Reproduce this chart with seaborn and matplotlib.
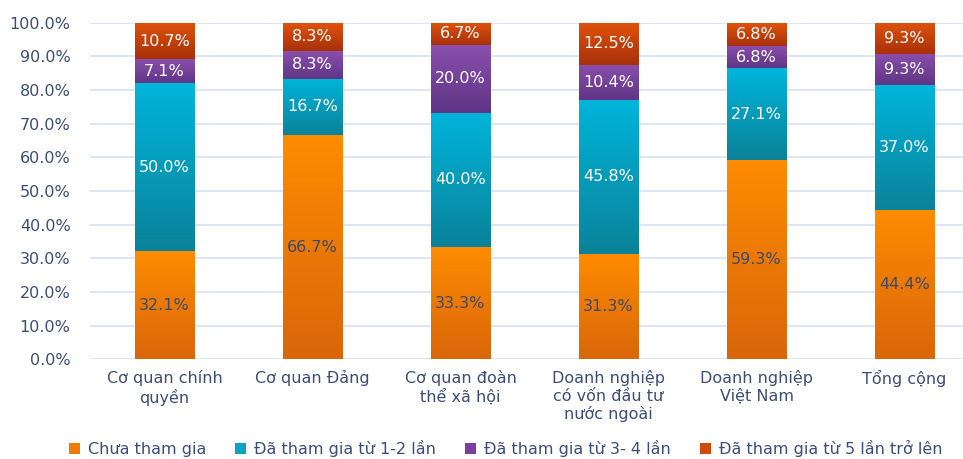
import numpy as np
import pandas as pd
import matplotlib
matplotlib.use("Agg")
import matplotlib.pyplot as plt
import seaborn as sns
from matplotlib.patches import Patch
from matplotlib.colors import LinearSegmentedColormap

categories = ["Cơ quan chính\nquyền", "Cơ quan Đảng", "Cơ quan đoàn\nthể xã hội",
              "Doanh nghiệp\ncó vốn đầu tư\nnước ngoài", "Doanh nghiệp\nViệt Nam", "Tổng cộng"]
series_names = ["Chưa tham gia", "Đã tham gia từ 1-2 lần",
                "Đã tham gia từ 3- 4 lần", "Đã tham gia từ 5 lần trở lên"]
chua = [32.1, 66.7, 33.3, 31.3, 59.3, 44.4]
lan_1_2 = [50.0, 16.7, 40.0, 45.8, 27.1, 37.0]
lan_3_4 = [7.1, 8.3, 20.0, 10.4, 6.8, 9.3]
lan_5 = [10.7, 8.3, 6.7, 12.5, 6.8, 9.3]
yticks = [0, 10, 20, 30, 40, 50, 60, 70, 80, 90, 100]

# (top colour, bottom colour) for each series gradient
grads = [("#ff8c00", "#d9660a"), ("#00b5db", "#0b8299"),
         ("#8a4fad", "#5f3585"), ("#e0520a", "#a8300a")]
legend_cols = ["#f07c05", "#0aa3c2", "#7a3fa0", "#d04a0c"]
label_cols = ["#3d4a6b", "white", "white", "white"]
text_col = "#3b4e78"

sns.set_theme(style="white")
plt.rcParams['font.family'] = ['DejaVu Sans']

fig = plt.figure(figsize=(9.63, 4.59), dpi=100)
ax = fig.add_axes([90 / 963, 1 - 359.3 / 459, 873 / 963, (359.3 - 22.7) / 459])

values = [chua, lan_1_2, lan_3_4, lan_5]
cum = np.cumsum(np.array(values), axis=0)
df = pd.DataFrame({"cat": categories})

# draw cumulative bars, tallest first so each segment stays visible
bars_by_series = []
for i in range(3, -1, -1):
    n_before = len(ax.patches)
    sns.barplot(x=df["cat"], y=cum[i], ax=ax, color=legend_cols[i], width=0.4,
                saturation=1, edgecolor="none", zorder=2)
    bars_by_series.insert(0, ax.patches[n_before:])

# overlay vertical gradients per segment
for i, patches in enumerate(bars_by_series):
    cmap = LinearSegmentedColormap.from_list("g%d" % i, [grads[i][1], grads[i][0]])
    grad = np.linspace(0, 1, 256).reshape(-1, 1)
    for j, p in enumerate(patches):
        x0 = p.get_x()
        w = p.get_width()
        top = cum[i][j]
        bot = cum[i - 1][j] if i > 0 else 0
        ax.imshow(grad, extent=[x0, x0 + w, bot, top], origin="lower", aspect="auto",
                  cmap=cmap, zorder=3)
        ax.text(x0 + w / 2, (bot + top) / 2, "%.1f%%" % values[i][j], ha="center",
                va="center", color=label_cols[i], fontsize=11.5, zorder=4)

ax.set_xlim(-0.503, 5.395)
ax.set_ylim(0, 100)
ax.set_yticks(yticks)
ax.set_yticklabels(["%.1f%%" % v for v in yticks], color=text_col, fontsize=11.5)
ax.tick_params(axis="x", colors=text_col, labelsize=11.5, length=0, pad=8)
ax.tick_params(axis="y", length=0, pad=14)
ax.set_xlabel("")
ax.set_ylabel("")
ax.yaxis.grid(True, color="#d5e2f3", linewidth=1.2, zorder=0)
ax.set_axisbelow(True)
for s in ax.spines.values():
    s.set_visible(False)

handles = [Patch(facecolor=c, edgecolor="none") for c in legend_cols]
fig.legend(handles, series_names, loc="center", bbox_to_anchor=(0.525, 0.022), ncol=4,
           frameon=False, fontsize=11.5, labelcolor=text_col, handlelength=0.7,
           handleheight=0.7, handletextpad=0.5, columnspacing=1.8)

fig.savefig("out.png", dpi=100)
